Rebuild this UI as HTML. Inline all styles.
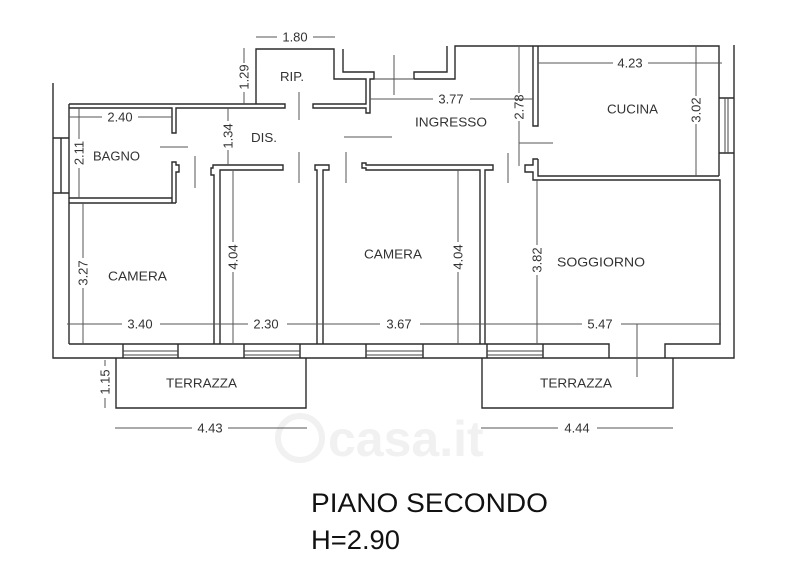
<!DOCTYPE html>
<html><head><meta charset="utf-8">
<style>
html,body{margin:0;padding:0;background:#fff;}
svg{display:block}
</style></head><body>
<svg width="800" height="575" viewBox="0 0 800 575" xmlns="http://www.w3.org/2000/svg">
<rect width="800" height="575" fill="#fff"/>
<!-- faint watermark -->
<g fill="#f1f1f1" font-family="Liberation Sans, Arial, sans-serif">
  <circle cx="300" cy="438" r="22" fill="none" stroke="#f1f1f1" stroke-width="6"/>
  <text x="328" y="456" font-size="50" font-weight="bold">casa.it</text>
</g>
<!-- walls -->
<g fill="none" stroke="#2b2b2b" stroke-width="1.4" stroke-linejoin="miter">
  <path d="M53,83 V358 H734 V45"/>
  <path d="M53,138 H69 M53,193 H69 M61,138 V193"/>
  <path d="M69,104 V344"/>
  <path d="M69,104 H285 V108 H176 V133 H172 V108 H69"/>
  <path d="M172,203 V162 H176 V165 H179 V172 H176 V203"/>
  <path d="M69,198 H172 M69,203 H176"/>
  <path d="M214,344 V175 H211 V168 H213 V165 H283 V170 H220 V344"/>
  <path d="M317,344 V170 H315 V165 H329 V170 H323 V344"/>
  <path d="M480,344 V170 H366 V168 H362 V163 H366 V165 H493 V170 H485 V344"/>
  <path d="M256,104 V49 H334 V79 H366 V104 H313 V108 H366 V113 H370 V79 H374 V72 H343 V49"/>
  <path d="M414,79 V72 H447 V46 M414,79 H455 V46 H719 V176"/>
  <path d="M533,46 V126 H538 V46"/>
  <path d="M538,159 V176 H719 M538,159 H533 V165 H525 V172 H533 V180 H720 V344 H665 V358"/>
  <path d="M719,98 H734 M719,153 H734"/>
  <path d="M69,344 H609 V358 M123,344 V358 M178,344 V358 M244,344 V358 M300,344 V358 M366,344 V358 M423,344 V358 M487,344 V358 M543,344 V358"/>
  <path d="M116,358 V408 H306 V358 M482,358 V408 H673 V358"/>
</g>
<g fill="none" stroke="#444" stroke-width="1">
  <path d="M725,98 V153 M728,98 V153"/>
  <path d="M123,351 H178 M123,355 H178 M244,351 H300 M244,355 H300 M366,351 H423 M366,355 H423 M487,351 H543 M487,355 H543"/>
  <path d="M374,79 H414"/>
</g>
<!-- door leaves & dimension lines -->
<g fill="none" stroke="#555" stroke-width="1">
  <path d="M160,147 H188 M195,156 V188"/>
  <path d="M299,92 V120 M299,152 V183 M346,152 V183 M344,137 H392"/>
  <path d="M394,55 V95 M508,153 V183 M519,143 H553"/>
  <path d="M256,37 H277 M313,37 H335"/>
  <path d="M244,48 V63 M244,92 V104"/>
  <path d="M228,108 V121 M228,150 V165"/>
  <path d="M69,117 H102 M138,117 H172"/>
  <path d="M79,108 V139 M79,168 V198"/>
  <path d="M370,99 H433 M470,99 H533"/>
  <path d="M519,47 V93 M519,121 V166"/>
  <path d="M538,63 H613 M648,63 H722"/>
  <path d="M696,46 V96 M696,124 V176"/>
  <path d="M83,203 V258 M83,288 V344"/>
  <path d="M233,171 V242 M233,272 V344"/>
  <path d="M458,170 V242 M458,272 V344"/>
  <path d="M537,180 V245 M537,275 V344"/>
  <path d="M67,324 H122 M160,324 H248 M287,324 H380 M420,324 H582 M621,324 H721"/>
  <path d="M637,324 V377"/>
  <path d="M105,360 V366 M105,398 V408"/>
  <path d="M115,428 H192 M228,428 H307"/>
  <path d="M481,428 H558 M597,428 H673"/>
</g>
<!-- labels -->
<g font-family="Liberation Sans, Arial, sans-serif" font-size="13" fill="#333">
  <text x="280" y="81" textLength="24" lengthAdjust="spacingAndGlyphs">RIP.</text>
  <text x="251" y="142" textLength="26" lengthAdjust="spacingAndGlyphs">DIS.</text>
  <text x="93" y="160.5" textLength="47" lengthAdjust="spacingAndGlyphs">BAGNO</text>
  <text x="415" y="126.5" textLength="72" lengthAdjust="spacingAndGlyphs">INGRESSO</text>
  <text x="607" y="113.5" textLength="51" lengthAdjust="spacingAndGlyphs">CUCINA</text>
  <text x="108" y="280.5" textLength="59" lengthAdjust="spacingAndGlyphs">CAMERA</text>
  <text x="364" y="258.5" textLength="58" lengthAdjust="spacingAndGlyphs">CAMERA</text>
  <text x="557" y="266.5" textLength="88" lengthAdjust="spacingAndGlyphs">SOGGIORNO</text>
  <text x="166" y="387.5" textLength="71" lengthAdjust="spacingAndGlyphs">TERRAZZA</text>
  <text x="540" y="387.5" textLength="72" lengthAdjust="spacingAndGlyphs">TERRAZZA</text>

  <g text-anchor="middle">
    <text x="295" y="41.5">1.80</text>
    <text x="120" y="121.5">2.40</text>
    <text x="451" y="103.5">3.77</text>
    <text x="630" y="67.5">4.23</text>
    <text x="140" y="328.5">3.40</text>
    <text x="266" y="328.5">2.30</text>
    <text x="399" y="328.5">3.67</text>
    <text x="600" y="328.5">5.47</text>
    <text x="210" y="432.5">4.43</text>
    <text x="577" y="432.5">4.44</text>
    <text transform="translate(244,77) rotate(-90)" dy="4.6">1.29</text>
    <text transform="translate(228,136) rotate(-90)" dy="4.6">1.34</text>
    <text transform="translate(79,153) rotate(-90)" dy="4.6">2.11</text>
    <text transform="translate(519,107) rotate(-90)" dy="4.6">2.78</text>
    <text transform="translate(696,110) rotate(-90)" dy="4.6">3.02</text>
    <text transform="translate(83,273) rotate(-90)" dy="4.6">3.27</text>
    <text transform="translate(233,257) rotate(-90)" dy="4.6">4.04</text>
    <text transform="translate(458,257) rotate(-90)" dy="4.6">4.04</text>
    <text transform="translate(537,260) rotate(-90)" dy="4.6">3.82</text>
    <text transform="translate(105,382) rotate(-90)" dy="4.6">1.15</text>
  </g>
</g>
<g font-family="Liberation Sans, Arial, sans-serif" font-size="27" fill="#111">
  <text x="311" y="512" textLength="237" lengthAdjust="spacingAndGlyphs">PIANO SECONDO</text>
  <text x="311" y="549" textLength="89" lengthAdjust="spacingAndGlyphs">H=2.90</text>
</g>
</svg>
</body></html>
